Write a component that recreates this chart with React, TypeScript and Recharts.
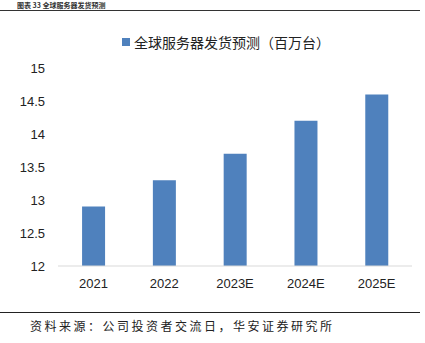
import { Bar, BarChart, XAxis, YAxis } from "recharts";

const years = ["2021", "2022", "2023E", "2024E", "2025E"];
const shipments = [12.9, 13.3, 13.7, 14.2, 14.6];
const yTicks = [12, 12.5, 13, 13.5, 14, 14.5, 15];

const seriesName = "全球服务器发货预测（百万台）";
const title = "图表 33 全球服务器发货预测";
const source = "资料来源：公司投资者交流日，华安证券研究所";

const data = years.map((year, i) => ({ year, value: shipments[i] }));

const BLUE = "#4F81BD";
const latin = '"Liberation Sans", Arial, sans-serif';
const cjk = '"Noto Sans CJK SC", "Liberation Sans", sans-serif';

export default function App() {
  return (
    <div style={{ position: "fixed", left: 0, top: 0, width: 425, height: 343, background: "#fff", overflow: "hidden" }}>
      <div
        style={{
          position: "absolute",
          left: 17,
          top: 0,
          fontFamily: cjk,
          fontSize: 7,
          fontWeight: 700,
          color: "#333",
          whiteSpace: "nowrap",
          lineHeight: "10px",
        }}
      >
        {title}
      </div>
      <div style={{ position: "absolute", left: 0, top: 10, width: 420, height: 1, background: "#333" }} />
      <div
        style={{
          position: "absolute",
          left: 122,
          top: 32,
          display: "flex",
          alignItems: "center",
          fontFamily: cjk,
          fontSize: 14,
          lineHeight: "20px",
          color: "#222",
          whiteSpace: "nowrap",
        }}
      >
        <span style={{ width: 8, height: 8, background: BLUE, marginRight: 4, display: "inline-block" }} />
        <span>{seriesName}</span>
      </div>
      <BarChart
        width={425}
        height={343}
        data={data}
        margin={{ top: 68, right: 13, left: 0, bottom: 47 }}
        barCategoryGap="34%"
      >
        <XAxis
          dataKey="year"
          height={30}
          tickLine={false}
          axisLine={{ stroke: "#D9D9D9", strokeWidth: 1 }}
          tick={{ fill: "#222", fontSize: 13, fontFamily: latin }}
          tickMargin={7}
          interval={0}
        />
        <YAxis
          domain={[12, 15]}
          ticks={yTicks}
          width={58}
          axisLine={false}
          tickLine={false}
          tick={{ fill: "#222", fontSize: 13, fontFamily: latin }}
          tickMargin={7}
        />
        <Bar dataKey="value" name={seriesName} fill={BLUE} isAnimationActive={false} />
      </BarChart>
      <div style={{ position: "absolute", left: 0, top: 312, width: 420, height: 1, background: "#222" }} />
      <div
        style={{
          position: "absolute",
          left: 30,
          top: 318,
          fontFamily: cjk,
          fontSize: 12,
          letterSpacing: 2.5,
          color: "#222",
          whiteSpace: "nowrap",
          lineHeight: "16px",
        }}
      >
        {source}
      </div>
    </div>
  );
}
